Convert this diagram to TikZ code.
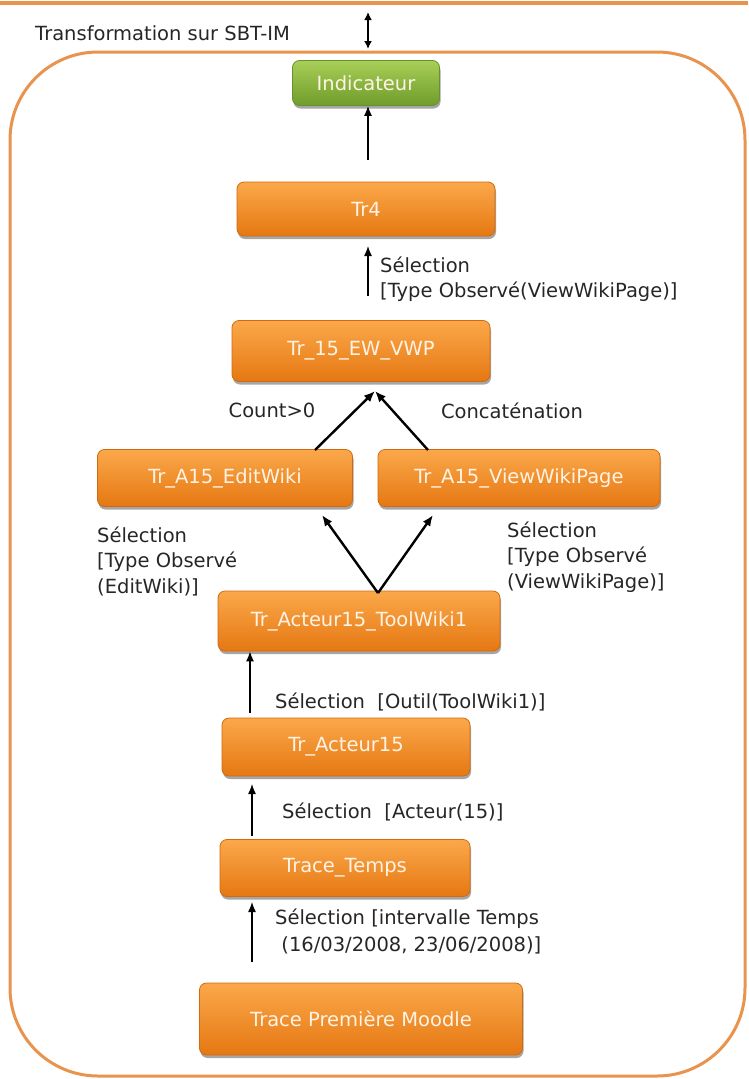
\documentclass[tikz,border=0pt]{standalone}
\usepackage{fontspec}
\setmainfont{DejaVu Sans}
\usetikzlibrary{arrows.meta,shadows}
\definecolor{frame}{HTML}{E8934E}
\definecolor{otop}{HTML}{FBA84A}
\definecolor{obot}{HTML}{E57812}
\definecolor{oline}{HTML}{D06A10}
\definecolor{gtop}{HTML}{A8CF58}
\definecolor{gbot}{HTML}{6F9C2A}
\definecolor{gline}{HTML}{6A8F2E}
\definecolor{btext}{HTML}{FFF3E6}
\begin{document}
\begin{tikzpicture}[x=1pt,y=-1pt,
  box/.style={rectangle, rounded corners=7pt, draw=oline, line width=0.8pt,
    top color=otop, bottom color=obot, text=btext,
    font=\fontsize{19.5}{22}\selectfont,
    drop shadow={shadow xshift=1pt, shadow yshift=-3pt, opacity=0.35, fill=black},
    inner sep=0pt},
  gbox/.style={box, draw=gline, top color=gtop, bottom color=gbot},
  lbl/.style={font=\fontsize{19.5}{25.5}\selectfont, text=black!85, align=left, anchor=west, inner sep=0pt},
  arr/.style={-{Latex[length=10pt,width=8pt]}, line width=1.3pt},
  darr/.style={-{Latex[length=11pt,width=9pt]}, line width=2.4pt}]
\useasboundingbox (0,0) rectangle (748,1079);
% frame
\draw[frame, line width=4pt] (0,3) -- (748,3);
\draw[frame, line width=3pt, rounded corners=88pt] (10,52) rectangle (745,1076);
\node[lbl, font=\fontsize{19.5}{22}\selectfont] (title) at (35,33) {Transformation sur SBT-IM};
\coordinate (dt) at (368,12);
\coordinate (db) at (368,49);
\draw[{Latex[length=8pt,width=8pt]}-{Latex[length=8pt,width=8pt]}, line width=1.8pt] (dt) -- (db);
% nodes
\node[gbox, minimum width=147pt, minimum height=45pt] (ind) at (366,83) {Indicateur};
\node[box, minimum width=258pt, minimum height=54pt] (tr4) at (366,209) {Tr4};
\node[box, minimum width=258pt, minimum height=61pt] (tr15) at (361,351) {Tr\_15\_EW\_VWP};
\node[box, minimum width=255pt, minimum height=57pt] (ew) at (225,478) {Tr\_A15\_EditWiki};
\node[box, minimum width=282pt, minimum height=57pt] (vw) at (519,478) {Tr\_A15\_ViewWikiPage};
\node[box, minimum width=282pt, minimum height=60pt] (tw) at (359,621) {Tr\_Acteur15\_ToolWiki1};
\node[box, minimum width=248pt, minimum height=58pt] (ac) at (346,747) {Tr\_Acteur15};
\node[box, minimum width=250pt, minimum height=57pt] (tt) at (345,868) {Trace\_Temps};
\node[box, minimum width=323pt, minimum height=72pt] (tpm) at (361,1019) {Trace Première Moodle};
% labels
\node[lbl] (l4) at (380,279) {Sélection\\{}[Type Observé(ViewWikiPage)]};
\node[lbl, anchor=center] (cnt) at (272,410) {Count>0};
\node[lbl, anchor=center] (cat) at (512,411) {Concaténation};
\node[lbl] (lsl) at (97,561) {Sélection\\{}[Type Observé\\(EditWiki)]};
\node[lbl] (lsr) at (507,557) {Sélection\\{}[Type Observé\\(ViewWikiPage)]};
\node[lbl] (l3) at (275,702) {Sélection\ \ [Outil(ToolWiki1)]};
\node[lbl] (l2) at (282,812) {Sélection\ \ [Acteur(15)]};
\node[lbl, font=\fontsize{19.5}{27}\selectfont] (l1) at (275,931) {Sélection [intervalle Temps\\\ (16/03/2008, 23/06/2008)]};
% arrows
\coordinate (a5s) at (368,160);
\draw[arr] (a5s) -- (a5s |- ind.south);
\coordinate (a4s) at (368,296);
\coordinate (a4e) at (368,246);
\draw[arr] (a4s) -- (a4e);
\coordinate (m15) at (375,391);
\coordinate (ews) at (315,450);
\coordinate (vws) at (428,450);
\draw[darr] (ews) -- (m15);
\draw[darr] (vws) -- (m15);
\coordinate (tws) at (378,593);
\coordinate (ewe) at (322,515);
\coordinate (vwe) at (433,515);
\draw[darr] (tws) -- (ewe);
\draw[darr] (tws) -- (vwe);
\coordinate (a3s) at (250,713);
\draw[arr] (a3s) -- (a3s |- tw.south);
\coordinate (a2s) at (252,836);
\coordinate (a2e) at (252,784);
\draw[arr] (a2s) -- (a2e);
\coordinate (a1s) at (252,962);
\coordinate (a1e) at (252,902);
\draw[arr] (a1s) -- (a1e);
\end{tikzpicture}
\end{document}
